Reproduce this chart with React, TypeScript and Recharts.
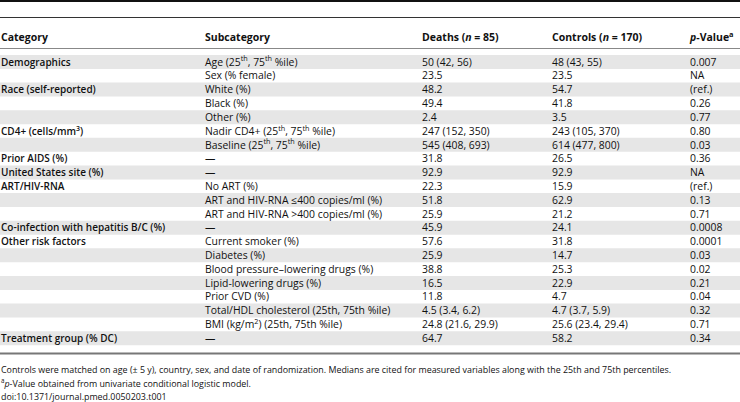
import React from "react";
import { BarChart, Bar, XAxis, YAxis } from "recharts";

// table text, one entry per row (^..^ = superscript, _.._ = italic)
const categories = [
  "Demographics", "", "Race (self-reported)", "", "", "CD4+ (cells/mm^3^)", "",
  "Prior AIDS (%)", "United States site (%)", "ART/HIV-RNA", "", "",
  "Co-infection with hepatitis B/C (%)", "Other risk factors", "", "", "", "", "", "",
  "Treatment group (% DC)",
];
const subcategories = [
  "Age (25^th^, 75^th^ %ile)", "Sex (% female)", "White (%)", "Black (%)", "Other (%)",
  "Nadir CD4+ (25^th^, 75^th^ %ile)", "Baseline (25^th^, 75^th^ %ile)", "—", "—",
  "No ART (%)", "ART and HIV-RNA ≤400 copies/ml (%)", "ART and HIV-RNA >400 copies/ml (%)",
  "—", "Current smoker (%)", "Diabetes (%)", "Blood pressure–lowering drugs (%)",
  "Lipid-lowering drugs (%)", "Prior CVD (%)", "Total/HDL cholesterol (25th, 75th %ile)",
  "BMI (kg/m^2^) (25th, 75th %ile)", "—",
];
const deaths = [
  "50 (42, 56)", "23.5", "48.2", "49.4", "2.4", "247 (152, 350)", "545 (408, 693)", "31.8",
  "92.9", "22.3", "51.8", "25.9", "45.9", "57.6", "25.9", "38.8", "16.5", "11.8",
  "4.5 (3.4, 6.2)", "24.8 (21.6, 29.9)", "64.7",
];
const controls = [
  "48 (43, 55)", "23.5", "54.7", "41.8", "3.5", "243 (105, 370)", "614 (477, 800)", "26.5",
  "92.9", "15.9", "62.9", "21.2", "24.1", "31.8", "14.7", "25.3", "22.9", "4.7",
  "4.7 (3.7, 5.9)", "25.6 (23.4, 29.4)", "58.2",
];
const pValues = [
  "0.007", "NA", "(ref.)", "0.26", "0.77", "0.80", "0.03", "0.36", "NA", "(ref.)", "0.13",
  "0.71", "0.0008", "0.0001", "0.03", "0.02", "0.21", "0.04", "0.32", "0.71", "0.34",
];
const headers = ["Category", "Subcategory", "Deaths (_n_ = 85)", "Controls (_n_ = 170)", "_p_-Value^a^"];
const footnotes = [
  "Controls were matched on age (± 5 y), country, sex, and date of randomization. Medians are cited for measured variables along with the 25th and 75th percentiles.",
  "^a^_p_-Value obtained from univariate conditional logistic model.",
  "doi:10.1371/journal.pmed.0050203.t001",
];

const rows = subcategories.map((sub, i) => ({
  row: i,
  category: categories[i],
  sub,
  deaths: deaths[i],
  controls: controls[i],
  p: pValues[i],
  shade: i % 2 === 0 ? 1 : 0,
}));

const W = 740;
const H = 402;
const COLS = [1, 205, 422, 552, 690];
const FONT = "'Open Sans', sans-serif";
const FS = 10.4;
const INK = "#111";

type Seg = { t: string; sup?: boolean; it?: boolean };
function parse(s: string): Seg[] {
  const out: Seg[] = [];
  const re = /\^([^^]+)\^|_([^_]+)_/g;
  let last = 0;
  let m: RegExpExecArray | null;
  while ((m = re.exec(s))) {
    if (m.index > last) out.push({ t: s.slice(last, m.index) });
    if (m[1] !== undefined) out.push({ t: m[1], sup: true });
    else out.push({ t: m[2], it: true });
    last = re.lastIndex;
  }
  if (last < s.length) out.push({ t: s.slice(last) });
  return out;
}

function Rich({ x, y, text, weight = 400, size = FS }: { x: number; y: number; text: string; weight?: number; size?: number }) {
  let up = false;
  return (
    <text x={x} y={y + size * 0.36} fontFamily={FONT} fontSize={size} fontWeight={weight}
      fill={INK} style={{ whiteSpace: "pre" }}>
      {parse(text).map((s, k) => {
        const dy = s.sup ? -size * 0.4 : up ? size * 0.4 : 0;
        up = !!s.sup;
        return (
          <tspan key={k} dy={dy} fontSize={s.sup ? size * 0.7 : undefined}
            fontStyle={s.it ? "italic" : undefined}>
            {s.t}
          </tspan>
        );
      })}
    </text>
  );
}

const renderRow = (props: any) => {
  const { y, payload } = props;
  const r = rows[Number(payload.value)];
  if (!r) return <g />;
  return (
    <g>
      <Rich x={COLS[0]} y={y} text={r.category} weight={650} size={10} />
      <Rich x={COLS[1]} y={y} text={r.sub} />
      <Rich x={COLS[2]} y={y} text={r.deaths} />
      <Rich x={COLS[3]} y={y} text={r.controls} />
      <Rich x={COLS[4]} y={y} text={r.p} />
    </g>
  );
};

export default function App() {
  return (
    <div style={{ position: "absolute", left: 0, top: 0, width: W, height: H, background: "#fff" }}>
      <BarChart width={W} height={H} data={rows} layout="vertical" barCategoryGap={0}
        margin={{ top: 55, right: 0, bottom: 57, left: -1 }}>
        <XAxis type="number" domain={[0, 1]} hide />
        <YAxis type="category" dataKey="row" width={1} axisLine={false} tickLine={false}
          interval={0} tick={renderRow} />
        <Bar dataKey="shade" fill="#e6e6e6" isAnimationActive={false} />
      </BarChart>
      <svg width={W} height={H} style={{ position: "absolute", left: 0, top: 0, pointerEvents: "none" }}>
        <rect x={0} y={0} width={W} height={2} fill="#111" />
        <rect x={0} y={17} width={W} height={1} fill="#333" />
        {headers.map((h, i) => (
          <Rich key={i} x={COLS[i]} y={37.5} text={h} weight={700} size={10.5} />
        ))}
        <rect x={0} y={48} width={W} height={1} fill="#888" />
        <rect x={0} y={352.5} width={W} height={2} fill="#777" />
        {footnotes.map((f, i) => (
          <Rich key={i} x={1} y={370 + i * 13.5} text={f} size={8.9} />
        ))}
      </svg>
    </div>
  );
}
